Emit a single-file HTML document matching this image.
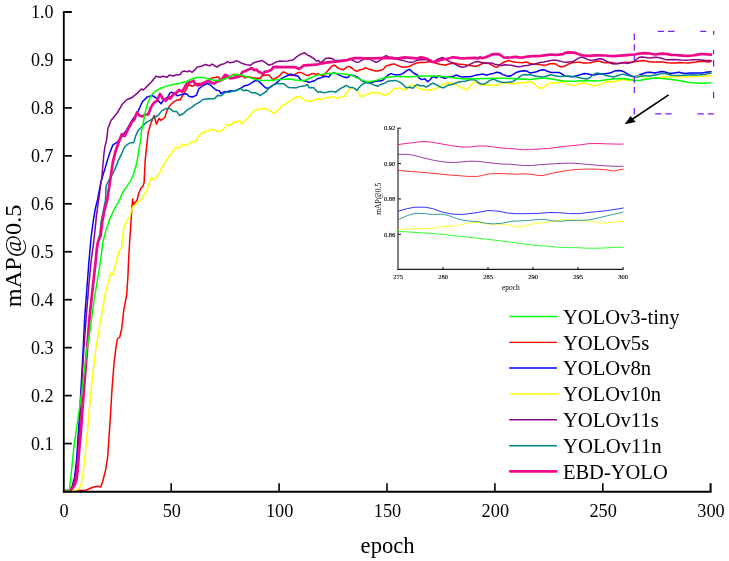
<!DOCTYPE html>
<html><head><meta charset="utf-8"><title>mAP@0.5 vs epoch</title>
<style>
html,body{margin:0;padding:0;background:#fff;}
body{width:729px;height:561px;overflow:hidden;font-family:"Liberation Serif",serif;}
svg text{font-family:"Liberation Serif",serif;}
</style></head><body>
<svg width="729" height="561" viewBox="0 0 729 561" style="display:block;will-change:transform">
<rect x="0" y="0" width="729" height="561" fill="#ffffff"/>
<polyline points="64.3,491 85.7,490.2 93.5,487 97.8,486.3 100.7,487 102.8,481.3 105.6,470 107.8,455.7 109.2,434.3 110.2,420 112,389 114,363.5 115.9,347.8 117.3,339 119.8,337 121.8,328.2 123.7,310.6 126.7,295 128,275.3 128.6,260 129.6,242.8 130.7,226.8 131.7,210.7 132.6,199 133.6,204.5 134.6,203 137.1,200 138.7,193.5 140.9,188.2 143,186 144.1,182.8 144.6,172.1 145.1,161.4 146.2,150.7 148.2,132.2 151.2,122.4 154.1,115.5 156.5,124.3 159,118.4 161,120.4 164.9,117.5 166.9,110.6 169.8,105.7 173.7,101.8 177.6,99.8 179.9,100 183.2,94.6 186.5,88.8 188.5,84.7 192.2,86.3 194.7,84.7 197.2,83.5 202.9,83.5 205.4,82.2 209.5,79.3 212.8,77.7 216.1,77.3 218.6,76.9 220.2,79.8 221.9,80.6 226,77 230,76.7 232.5,75 234.5,74.2 237.4,75.9 240.7,75.9 243.2,76.7 245.2,77.9 248.1,76.7 251.4,77.5 254.7,77.9 258,78.3 260.5,78.3 261.7,75.9 263.7,75.5 266.2,75 268.7,75 271.2,77.5 272.8,79.6 276.1,77.9 279.4,75.9 281.9,73 283.5,71.8 286.8,73.4 290,75.3 293.3,75.5 295.8,73.8 298.2,72.6 300.7,72.4 303.2,73.4 305.6,75 308.1,75.5 310.6,74.2 313,73.6 315.5,74.2 318.8,73.8 321.3,75.5 323.7,75.5 326.2,72.6 328.7,69.7 331.2,66.8 333.6,65.2 335.3,65.6 337.7,68 340.2,68.9 343.5,69.7 346,67.6 348.4,66.4 350,67 352.5,68.5 354.9,70.5 357,71.3 359.9,69.7 363.2,69.3 365.2,67.6 368.1,68.9 371.4,69.7 374.7,70.9 378,70.9 381.3,70.1 383.7,68.9 385.4,66.4 388.7,65.2 392,64.3 394.4,63.9 396.9,65.2 400.2,66.4 403.5,67.2 407.6,66.8 410,66.2 413.3,64.3 416.6,63.1 419.9,62.5 423.2,62.5 426.5,62.3 428.9,61.5 433,62.3 437.2,63.5 439.6,64.3 442.9,64.8 445.4,65.2 447.9,64.3 451.2,63.5 454.4,63.1 457.7,63.9 461,64.3 464.3,64.5 467.6,65.2 470,65.6 473.3,66 475.8,66.4 479.1,65.2 482.3,63.5 485.6,62.7 488.9,63.5 491.4,64.8 493.9,66.4 496.3,67.2 498.4,66.4 500.5,64.3 502.9,62.7 505.4,61.5 507.9,60.6 510.3,60.9 512.8,61.7 516.1,62.3 519.4,62.5 522.7,62.7 526,62 528.4,62.7 530,63.5 533.3,63.9 537.4,64.3 540.7,64.8 544,65.2 547.3,64.8 549.8,63.7 553,63.4 555.5,63.9 558,65.6 560.5,66.8 562.9,66.7 565.4,65.8 567.9,64.3 570.3,63.5 572.8,62.5 576.1,62.3 580.2,62.3 583.5,62.9 586.8,63.1 590,62.7 593.3,61.9 596.6,61.1 599.9,61.2 603.2,62.5 606.5,62.7 609.8,62.3 613,62.7 616.3,63.5 619.6,63.5 622.9,62.5 626.2,62.3 629.5,62.5 632.8,62 636.1,61.5 639.4,60.9 642.7,60.6 646,61.1 650,61.9 655,61.9 659.1,61.9 663.2,62.1 667.3,62.7 671.5,63.1 675.6,62.9 679.7,62.4 683.8,62.7 687.9,62.9 692,62.4 696.2,61.9 700.3,61.3 704.4,61.5 708.5,61.9 711,61.5" fill="none" stroke="#ff0000" stroke-width="1.5" stroke-linejoin="round" stroke-linecap="round" />
<polyline points="64.3,491 69,490.5 72,487 74.5,478 76.6,460 78.2,435 79.8,410 81.5,380 83.1,350 84.8,316 86.8,290 88.9,262 91.1,237.5 93.2,221.4 95.3,208.6 97.5,200 100.7,182.8 103.9,172.1 107.1,161.4 109.8,152.8 113,144.8 117.3,142.1 120.8,138 126,131 131,122 137.5,112.5 142.4,101.8 147.3,96.9 152.2,95.5 156,97.8 161,103.7 163.9,99.8 167.8,96.9 170,92.9 171.6,92.1 174.1,93.3 177.4,95.8 181.5,94.6 186.5,93.7 188.9,96.2 192.2,97 196.3,95.4 198.8,88.8 202.9,85.5 207,83.5 209.5,84.3 212.8,87.2 216.1,90 219.4,90.9 221,93.7 224.3,91.7 227.6,91.7 230,90.7 233.3,91.1 236.6,90.3 239.1,89 241.5,87.8 244.4,85.7 247.3,85.3 250.6,83.7 253,82 255.5,80.4 258,80.8 260.5,82.9 262.9,85.3 265.4,87.8 267.9,88.2 270.3,87.4 272.8,85.3 275.3,83.7 278.6,81.2 281,78.7 284.3,77.1 287.6,75.5 290,74.2 292.5,74.6 294.9,75.5 297.4,75.9 299.1,77.5 300.7,80 303.2,80.8 306.5,81.2 308.9,82.5 311.4,81.6 314.7,80.8 317.2,78.7 320.5,77.9 323.7,76.7 326.2,76.3 328.7,77.1 330.3,75 332.8,73 336.1,73.6 338.6,74.6 341,75.9 344.3,77.1 346.8,77.7 348.8,76.7 350,75 353.3,75.5 356.6,76.7 359.1,78.3 361.5,80.4 364.8,82 368.1,82.9 371.4,82.6 374.7,81.6 378,81 381.3,80.8 383.7,79.6 386.2,76.7 388.7,74.6 391.2,73.6 393.6,74.4 396.9,74.9 400.2,74.6 402.7,73.6 405.1,71.8 407.6,70.1 410,69.5 412.5,72.2 414.9,73.8 417.4,75 419.1,77.9 421.5,79.6 424.8,78.7 427.7,81.6 429.8,80 432.2,77.1 434.7,76.7 436.3,77.9 438.4,75.9 441.3,77.1 444.6,78.3 447,77.5 450.3,76.7 453.6,76.3 456.1,75 458.6,75.9 461.9,77.1 466,76.7 470,76.7 473.3,75.9 476.6,74.9 479.9,74.4 483.2,74.1 486.5,75.2 489.8,74.1 493,73.6 495.5,72.6 498,72.2 500.5,73.2 502.9,74.6 506.2,75.7 509.5,76.3 512,75.2 514.4,73.6 516.9,72.2 520.2,71.3 523.5,70.8 526.8,70.9 528.8,72.4 530,73 533.3,72.4 536.6,71.8 539.1,70.5 542.3,69.7 544.8,69.9 547.3,71.3 550.6,72.2 553.9,72.6 557.2,72.6 559.6,72.6 562.1,74.2 564.6,75.9 567.9,76.3 571.2,76.7 574.4,76.3 577.7,75.5 581,74.4 584.3,73.6 587.6,73.8 590,74.6 593.3,75 596.6,74.6 599.9,73.8 603.2,74.1 606.5,73.6 609.8,73 612.2,72.2 614.7,70.9 618,70.5 621.3,70.8 623.7,71.6 626.2,73.2 628.7,74.6 631.2,75.9 634.4,76.7 636.9,76.3 639.4,75 642.7,73.8 646,72.6 650,72.2 655,73 658.3,72.2 661.6,71.5 664.9,72 668.2,73 671.5,73.4 675.6,72.8 678.9,72.3 682.2,73 685.5,73.4 689.6,73.1 693.7,73 697.8,73.1 701.9,73 706,72.3 711,71.7" fill="none" stroke="#0000ff" stroke-width="1.5" stroke-linejoin="round" stroke-linecap="round" />
<polyline points="64.3,491.3 70,491 75.7,490.6 79.3,488.5 81.4,482.8 83.5,470 85.7,448.5 87.8,428.6 89.4,408.6 93.3,369.4 96.3,346 100.2,322.4 105.1,294.9 110.6,273.3 112.5,275.3 115.9,263.5 119.4,250.3 121.6,248.2 122.6,237.5 123.7,228.9 126.4,221.4 129.6,217.1 131.7,209.6 133.4,206.4 136.6,203.2 139.2,201.6 141,200 143.5,195.7 145.7,192.5 147.8,188.2 149.4,182.8 151.6,177.5 153.2,179.1 155.3,179.1 157.5,175.3 160,172.1 162,167.5 166.9,159.6 171.8,152.7 175.7,147.5 178.6,148.2 182.5,144.3 186.5,145.5 190.4,142.4 194.3,142 195,142 198.9,136.1 202.8,132.2 206.8,131.2 211.7,129.2 215.6,130.6 219.5,131.8 223.4,129.2 227.4,124.3 230.3,125.3 233.2,122.4 236.2,122 239.1,120.8 242.1,123.9 246,119.4 249.9,115.5 253.8,110.6 257.7,109.6 263.6,108.6 267.5,109.6 271.5,111.6 274.4,113.5 278.3,109.6 282.3,105.7 286.2,103.7 290.1,100.8 294,97.8 297.9,96.5 301.9,97.8 305.8,100.8 309.7,101.2 313.6,100.4 317.5,98.8 321.5,99.8 325,97.8 328.9,97.3 332.8,96.5 336.8,98.4 340.7,96.9 343.5,97 346.8,92.3 350,88 353,87.6 357,90.3 359.1,94 360.7,96.4 363.2,96 366.5,94.4 368.9,94 371.4,92.7 373.9,92.3 376.3,93.6 378.8,92.7 381.3,94 383.7,95.2 386.2,94.8 388.7,94 391.2,91.5 393.6,89 396.9,88.2 400.2,88.2 402.7,89.4 405.1,90.3 407.6,87.4 410,85.7 412.5,84.9 414.9,85.7 417.4,87.8 420.7,89 424,89.9 427.3,89.4 430.6,90.3 433.9,89.4 437.2,88.2 439.6,86.6 442.9,84.5 446.2,83.3 448.7,82.9 451.2,83.3 454.4,83.7 456.9,84.5 459.4,86.6 462.7,88.2 465.1,88.6 466.8,90.3 468.4,88.2 470,86.2 472.5,82.9 474.9,81.6 477.4,82.9 480.7,84.5 484,84.9 487.3,84.9 490.6,84.8 493.9,85.7 497.2,85.3 500.5,83.7 503.7,82.9 507,83.1 510.3,83.7 513.6,83.7 516.9,82.9 520.2,82.5 523.5,82.9 526.8,82 530,81.9 533.3,82.9 535.8,85.3 538.2,87.4 540.3,88.6 543.2,87.4 546.5,85.3 549.8,83.3 552.2,82.6 555.5,83.3 558.8,82.5 562.1,82 564.6,82.6 567.9,83.7 570.3,84.9 573.6,85.6 576.1,84.9 578.6,83.7 581.9,83.1 585.1,83.3 587.6,84.1 590,84.5 592.5,85.6 595.8,85.7 599.1,84.9 602.3,83.3 605.6,82 608.9,81.2 612.2,81.6 614.7,82 617.2,80.8 620.5,80 622.9,79.2 625.4,80 627.9,80.4 631,80.2 634,78.5 636.1,76.7 638.6,75.9 641,75.9 643.5,77.1 646,78.3 647.6,78.5 650,78.2 655,77.9 663.2,77.1 667.3,76.7 671.5,76.7 679.7,76.7 683.8,76.9 687.9,76.7 692,76.4 696.2,76.4 700.3,76.3 704.4,76.1 708.5,75.9 711,75.6" fill="none" stroke="#ffff00" stroke-width="1.5" stroke-linejoin="round" stroke-linecap="round" />
<polyline points="64.3,491 69,490.6 72.5,487 75,478 77.2,462 79,436 80.5,410 82,380 83.8,350 86,320 88.7,286.8 91.2,260 93.2,246 94.8,232.1 96.4,216.1 98,204.3 98.7,200 100.2,188.2 101.8,177.5 102.8,166.8 103.9,153.9 105,146.4 106.6,140 108,128.2 111,120.4 116.9,113.5 122.7,103.7 126.7,99.8 131.6,97.8 136.5,93.9 141.4,89 143.3,90 147.3,86.1 151.2,82.2 156,76.3 160,77.3 162.9,76.3 166.9,77.3 169.8,74.9 170,75.2 173.3,76 176.6,74.8 179.9,74.8 182.3,71.5 184.8,71.1 187.3,71.9 188.9,70.7 192.2,72.3 194.7,69.9 197.2,67 201.3,66.2 205.4,64.5 209.5,65.8 212,64.1 216.9,67 221,64.5 224.3,63.7 227.6,61.6 230,62.7 233.3,62.3 236.2,60.6 239.1,61.9 242.3,63.5 246.5,64.8 250.6,65.2 253.9,62.7 258,61.5 262.1,60.6 265.4,62.7 268.7,65.2 272,64.3 275.3,62.3 279.4,61.1 283.5,61.2 287.6,60.9 290,60.6 293.3,59.8 296.6,56.9 300.7,54.1 304.8,52.8 307.3,54.9 310.6,56.5 313.9,58.6 316.3,61.1 318.4,60.6 320.5,62.3 322.9,61.1 325.4,58.6 328.7,57.9 332,58.4 334.4,60.2 336.9,60.6 340,60.4 344,60.8 348,59.6 350,59.4 353.3,60.6 356.6,62.3 359.1,61.9 362.3,59.8 366.5,58.6 371.4,59.8 373.9,61.5 376.3,62.3 378.8,61.1 381.3,59.4 383.7,56.9 386.2,55.7 388.7,56.9 392,57.3 396.1,59 399.4,59.8 403.5,60.6 407.6,61.9 410,62.3 413.3,61.9 416.6,60.6 419.9,59.8 423.2,59.4 427,59.8 431,61.5 434,61.9 437.2,59.4 440.5,58.2 442.9,57.6 445.4,59 448.7,61.1 452,62.7 455.3,64.3 458.6,66 461.9,67.2 465.1,66.8 467.6,65.6 470,64.3 472.5,63.1 474.9,61.9 477.4,61.5 480.7,62.3 484,62.7 486.5,63.5 489.8,63.1 492.2,63.1 494.7,64.3 498,64.8 501.3,65.6 504.6,64.8 507.9,65 511.2,65.3 514.4,66 517.7,66.8 521,66.4 524.3,65.8 527.6,65.6 530,64.8 533.3,64.3 536.6,63.5 539.9,62.5 544,61.9 548.1,61.1 552.2,60.2 556.3,60.2 559.6,60.9 562.9,61.9 566.2,62.3 569.5,61.9 572.8,61.5 575.3,60.2 577.7,58.6 580.2,57.3 582.7,57.3 585.1,58.2 587.6,59.4 590,60.2 593.3,60.1 596.6,59.4 599.9,58.7 602.3,59 604.8,60.2 608.1,62.3 611.4,63.5 614.7,63.9 618,63.5 621.3,63.1 624.6,62.7 627.9,63.4 631.2,62.5 634.4,61.1 636.9,59 639.4,57.3 641.9,56.9 644.3,57.3 647.6,57.8 650,57.9 655,57.3 658.3,57.5 661.6,58.2 664.9,59.4 669,59.8 673.1,59.4 677.2,59.7 681.3,60 685.5,60.2 689.6,60.1 693.7,59.8 697.8,59.7 701.9,60 706,60.5 711,60.6" fill="none" stroke="#86088a" stroke-width="1.5" stroke-linejoin="round" stroke-linecap="round" />
<polyline points="64.3,491 70,490.6 72.5,488.2 74.6,485 76.4,480 77.5,472 78.2,462.8 79.3,448.5 80.7,434.3 82.5,408.6 85.5,369.4 87.8,340 89.3,320 92.5,290 95.8,260 96.9,248.2 98,241.8 99.8,234.3 101.2,221.4 103.4,210.7 105.5,200 106.1,186 109,180 113,173.2 114.6,170 116.8,164.6 118.9,159.3 122.1,152.8 124.3,147.5 127.5,144.3 130.7,142.7 133.4,142.7 134.4,140.5 135.5,136.1 138.4,130.2 142.4,126.3 146.3,122.4 150.2,120.4 154.1,117.5 158,115.5 162,110.6 165.9,108.6 169.8,108.6 173.7,111.6 176.7,111.6 179.6,115.5 183.5,113.5 187.5,109.6 191.4,107.6 195,104.7 198.9,102.7 202.9,99.5 206.5,99 209.5,98.7 214.4,98.7 217.7,95.4 221,95.8 225.1,92.5 230,92.3 232.5,90.7 235.8,90.7 239.1,89.4 241.1,88.6 243.2,90.7 246.5,89.9 248.9,91.1 251.4,92.7 254.7,92.7 258,94 260,95.6 262.9,93.6 266.2,91.5 268.3,89 270.3,86.6 272.8,85.3 276.1,83.7 279.4,83.7 283.5,83.7 286,85.7 288.4,87.4 290,87.6 293.3,87.8 296.6,87.8 299.1,86.6 302.3,86.2 305.2,85.7 307.3,84.5 309.3,87.8 311.4,87.4 313.9,87.8 315.5,89.9 318,92.3 320,91.5 322.1,92.3 324.6,92.7 327,92.3 329.5,91.5 332.8,91.5 335.3,92.3 337.7,90.7 340.2,88.6 343.5,87 346.4,85.3 348.4,86.6 350,87.6 352.5,87.4 354.9,88.6 357,90.3 359.1,87.4 361.5,84.9 364.8,82.9 368.1,82.3 371.4,83.7 374.7,85.3 378,86.2 380.5,84.5 382.9,83.7 385.4,82.9 387.9,81.2 391.2,80.8 395.3,80.4 398.6,81.6 401,82.9 403.5,84.9 406,87.8 408.4,87.4 410,87.2 412.9,88.2 414.9,86.2 417.4,84.5 419.9,85.7 423.2,85.7 426.5,87 428.9,85.7 431.4,83.7 433.9,83.3 436.3,84.9 438.8,86.2 441.3,87.4 443.7,87.8 446.2,86.2 448.7,84.9 452,84.5 455.3,83.3 458.6,82 461.9,81.6 465.1,81.2 467.6,80.4 470,79.8 473.3,79.6 475.8,80.4 478.2,82.5 480.7,83.7 484,84.1 486.5,82.9 489.8,80.4 492.2,79.6 494.7,79.6 497.2,80.8 500.5,82 503.7,82.5 507,82.3 510.3,82 512.8,81.6 515.3,80 517.7,78.3 520.2,76.3 522.7,74.9 525.1,74.4 527.6,75 530,74.6 533.3,75.5 536.6,76.3 539.9,76.7 543.2,77.1 546.5,76.3 548.9,75.2 551.4,74.6 553.9,75.5 557.2,76.3 560.5,76.5 563.7,76.3 567,75.9 570.3,76.3 573.6,76.7 576.9,77.1 580.2,77.9 583.5,78.5 586.8,79 588.8,78.3 590,77.5 591.6,75.9 594.1,74.1 597.4,73 599.9,73.4 603.2,74.6 606.5,75.5 609.8,76.3 613,77.1 616.3,76.3 619.6,75 622.9,74.1 626.2,75 629.5,75.9 632.8,76.5 635.3,77.1 638.6,76.7 641.9,75.9 645.1,75.5 647.6,75.9 650,76 655,75 658.3,74.5 661.6,73.4 664.9,73.4 668.2,74.2 671.5,75.3 675.6,75.6 679.7,75.6 683.8,75.3 687.9,75 692,74.8 696.2,75 700.3,74.8 704.4,74.5 707.7,73.8 711,73" fill="none" stroke="#038686" stroke-width="1.5" stroke-linejoin="round" stroke-linecap="round" />
<polyline points="64.3,491 70,490.6 72.5,488.2 74.6,485 76.4,480 77.5,472 78.2,462.8 79.3,448.5 80.7,434.3 82.5,408.6 85.5,369.4 87.8,340 89.3,320 92.5,290 95.8,260 96.9,248.2 98,241.8 100.7,235.3 102.3,221.4 104.4,210.7 107.2,200 109.8,182.8 111.4,172.1 113,161.4 115.7,150.7 118.4,143.2 119.6,140 121.8,134.1 124.7,136.1 127.6,130.2 131.6,122.4 134.5,119.4 136.9,112.5 139.4,115.5 142.4,116.5 145.3,114.5 148.2,114.5 151.2,106.7 154.1,102.7 157.1,100.8 160,93.9 162.9,98.8 165.9,100.8 168.8,96.9 170,98.7 173.3,94.6 176.6,92.5 179.1,90 182.3,91.7 184.8,87.2 186.5,83.9 188.9,82.6 191.4,81.8 193.5,80.6 195.5,84.3 198,85.5 201.3,84.3 203.7,83 206.2,81.8 208.7,81 211.2,82.6 214.4,83.5 216.9,81.4 220.2,80.6 222.7,78.1 225.1,74.8 227.6,76 230,78.3 233.3,77.9 236.6,77.1 239.9,76.3 242.3,72.2 246.5,70.5 249.8,68.9 251.8,68 253.9,70.1 256.3,69.7 258.8,71.8 261.3,73 262.9,74.2 264.6,71.8 267.9,71.3 271.2,70.1 273.2,67.2 276.1,66.8 279.4,67.2 283.5,67.2 287.6,67.2 290,67.2 294.1,67.2 296.6,67.6 298.6,68.9 300.7,68 303.2,65.6 308.1,65.2 313,64.8 318,64.3 322.9,63.1 327.9,62.3 332.8,61.9 337.7,61.5 342.7,60.6 347.6,60.1 350,59 354.9,58.2 359.9,58.2 364.8,58.4 369.8,58.4 374.7,58.4 379.6,58.2 384.6,57.9 389.5,58.2 394.4,58.4 399.4,58.2 404.3,57.3 410,57.8 414.1,58.2 417.4,58.6 420.7,57.3 424,57.8 427.3,59 429.8,60.2 432.2,61.9 434.7,61.9 437.2,61.1 439.6,60.2 442.9,59.4 446.2,59 449.5,58.2 452.8,57.3 456.1,57.6 459.4,58.2 463.5,58.4 467.6,58.2 470,58.2 474.1,57.9 478.2,58.4 479.9,57.3 482.3,58.2 485.6,57.3 488.9,56 492.2,54.3 495.5,54.1 498.8,54.1 501.3,55.7 503.7,57.3 507,57.6 511.2,57.3 515.3,56.8 519.4,57.3 522.7,57.6 526,56.8 530,56.3 534.1,56 538.2,56.1 542.3,55.7 546.5,55.1 550.6,54.5 554.7,54.9 558.8,54.6 562.9,54.1 565.4,52.8 568.7,52.4 572.8,52.7 576.1,53.2 579.4,54.5 582.7,55.3 586.8,55.7 590,55.8 594.9,55.3 599.9,55.3 604.8,55.5 609.8,56 614.7,56.1 619.6,55.7 624.6,55.3 629.5,54.9 634.4,54.5 639.4,53.6 644.3,53.2 650,53.5 655,54.5 659.1,53.9 663.2,53.6 667.3,54.2 671.5,54.9 675.6,55 679.7,55.3 683.8,55.7 687.9,55.9 692,55.5 696.2,54.9 700.3,54.2 704.4,54.1 708.5,54.5 711,54.7" fill="none" stroke="#f0088a" stroke-width="2.7" stroke-linejoin="round" stroke-linecap="round" />
<polyline points="64,491.3 68.8,491 69.6,489 74.3,443.5 77.8,420 82,390 86.8,350 89,338 94.3,299 99.2,269 100.6,260 102.8,242.8 106,230 109.3,220.3 113.5,210.7 117.8,203.2 119.4,200 122.1,193.5 126.4,187.1 130.7,180.7 133.9,173.2 136,165.7 137.6,158.2 138.7,150.7 139.8,144.3 140.9,140 141.2,132.8 143.4,122.1 145.5,111.4 147.4,104 148.9,100.5 151.5,95 155.4,91 160.6,88.3 167.1,85.9 170,85.1 178.2,83.5 186.5,81.4 193,78.5 198,77.4 202.9,77.4 207,78.5 211.2,79.8 216.1,80.6 221,80.2 226,78.5 230,76.7 233.3,75 237.4,74.4 241.5,75 246.5,76.7 251.4,78.3 257.2,79.8 262.9,80.4 268.7,80.4 274.4,80.1 279.4,79.6 284.3,79.2 290,79 294.9,80 299.9,80.6 304.8,80.4 308.9,78.7 313,76.7 318,75 322.9,74.2 327.9,73.6 332.8,73.2 337.7,73.6 342.7,73.8 347.6,74.4 350,75 354.1,76.3 358.2,78.3 362.3,80.4 366.5,81.6 370.6,81.6 374.7,80.8 378.8,79.6 382.9,78.3 387,77.3 391.2,76.7 396.1,76.5 401,76.5 406,76.7 410,77.1 414.9,76.5 419.9,76.3 424.8,76 429.8,76 434.7,76 439.6,76.3 444.6,76.7 449.5,77.3 454.4,77.9 459.4,78.5 464.3,79 470,79.1 478.2,78.7 486.5,78.5 494.7,78.2 502.9,78.2 511.2,78.5 519.4,79 530,79.6 534.9,79 539.9,78.3 544.8,78.2 549.8,78.7 554.7,79.6 559.6,80.4 564.6,81 569.5,81.2 574.4,81.2 579.4,81 584.3,80.8 590,80.8 594.9,81 599.9,80.8 604.8,80.1 609.8,79.3 614.7,78.7 619.6,78.5 624.6,78.7 629.5,79.6 634.4,80.4 639.4,80.4 644.3,79.6 650,78.5 655,77.9 659.1,78.3 663.2,78.6 667.3,78.9 671.5,79.4 675.6,80 679.7,80.8 683.8,81.6 687.9,82.2 692,82.7 696.2,83 700.3,83.3 704.4,83.3 708.5,83 711,82.7" fill="none" stroke="#00ff00" stroke-width="1.5" stroke-linejoin="round" stroke-linecap="round" />
<path d="M634.3,33.4 V40.2 M634.3,44.3 V50.7 M634.3,55.1 V61.1 M634.3,76.4 V82.9 M634.3,87.1 V93.0 M634.3,108.0 V114.4 M657.7,31.3 H663.9 M668.0,31.3 H674.6 M700.2,31.3 H706.2 M713.6,31.1 V34.8 M713.6,50.0 V54.1 M713.6,60.0 V66.4 M713.6,91.9 V98.3 M655.2,113.9 H661.4 M665.3,113.9 H671.7 M697.3,113.9 H703.8 M707.7,113.9 H713.9" stroke="#7d1aff" stroke-width="1.25" fill="none"/>
<g stroke="#000" stroke-width="1.85" fill="none" stroke-linecap="butt">
<path d="M63.8,11.2 V492.625"/>
<path d="M62.875,491.7 H711.5"/>
<path d="M63.8,443.55 h8.0" stroke-width="1.7"/>
<path d="M63.8,395.60 h8.0" stroke-width="1.7"/>
<path d="M63.8,347.65 h8.0" stroke-width="1.7"/>
<path d="M63.8,299.70 h8.0" stroke-width="1.7"/>
<path d="M63.8,251.75 h8.0" stroke-width="1.7"/>
<path d="M63.8,203.80 h8.0" stroke-width="1.7"/>
<path d="M63.8,155.85 h8.0" stroke-width="1.7"/>
<path d="M63.8,107.90 h8.0" stroke-width="1.7"/>
<path d="M63.8,59.95 h8.0" stroke-width="1.7"/>
<path d="M63.8,12.00 h8.0" stroke-width="2.0"/>
<path d="M171.20,491.7 V483.2" stroke-width="1.6"/>
<path d="M279.10,491.7 V483.2" stroke-width="1.6"/>
<path d="M387.00,491.7 V483.2" stroke-width="1.6"/>
<path d="M494.90,491.7 V483.2" stroke-width="1.6"/>
<path d="M602.80,491.7 V483.2" stroke-width="1.6"/>
<path d="M710.60,491.7 V483.2" stroke-width="2.0"/>
</g>
<g font-family="'Liberation Serif', serif" font-size="18" fill="#000">
<text x="53.6" y="449.50" text-anchor="end">0.1</text>
<text x="53.6" y="401.55" text-anchor="end">0.2</text>
<text x="53.6" y="353.60" text-anchor="end">0.3</text>
<text x="53.6" y="305.65" text-anchor="end">0.4</text>
<text x="53.6" y="257.70" text-anchor="end">0.5</text>
<text x="53.6" y="209.75" text-anchor="end">0.6</text>
<text x="53.6" y="161.80" text-anchor="end">0.7</text>
<text x="53.6" y="113.85" text-anchor="end">0.8</text>
<text x="53.6" y="65.90" text-anchor="end">0.9</text>
<text x="53.6" y="17.95" text-anchor="end">1.0</text>
<text x="64.00" y="516.6" text-anchor="middle" font-size="18.3">0</text>
<text x="171.83" y="516.6" text-anchor="middle" font-size="18.3">50</text>
<text x="279.66" y="516.6" text-anchor="middle" font-size="18.3">100</text>
<text x="387.49" y="516.6" text-anchor="middle" font-size="18.3">150</text>
<text x="495.32" y="516.6" text-anchor="middle" font-size="18.3">200</text>
<text x="603.15" y="516.6" text-anchor="middle" font-size="18.3">250</text>
<text x="710.98" y="516.6" text-anchor="middle" font-size="18.3">300</text>
</g>
<text x="387.6" y="552.6" text-anchor="middle" font-family="'Liberation Serif', serif" font-size="22.6" fill="#000">epoch</text>
<text transform="translate(21,255.9) rotate(-90)" text-anchor="middle" font-family="'Liberation Serif', serif" font-size="22.3" fill="#000" textLength="102.5" lengthAdjust="spacingAndGlyphs">mAP@0.5</text>
<path d="M509.2,316.55 H557.0" stroke="#00ff00" stroke-width="1.4" fill="none"/>
<text x="562.9" y="323.80" font-family="'Liberation Serif', serif" font-size="20.5" fill="#000" textLength="116.6" lengthAdjust="spacingAndGlyphs">YOLOv3-tiny</text>
<path d="M509.2,342.35 H557.0" stroke="#ff0000" stroke-width="1.4" fill="none"/>
<text x="562.9" y="349.60" font-family="'Liberation Serif', serif" font-size="20.5" fill="#000" textLength="86.4" lengthAdjust="spacingAndGlyphs">YOLOv5s</text>
<path d="M509.2,367.95 H557.0" stroke="#0000ff" stroke-width="1.4" fill="none"/>
<text x="562.9" y="375.40" font-family="'Liberation Serif', serif" font-size="20.5" fill="#000" textLength="88.3" lengthAdjust="spacingAndGlyphs">YOLOv8n</text>
<path d="M509.2,394.00 H557.0" stroke="#ffff00" stroke-width="1.4" fill="none"/>
<text x="562.9" y="401.20" font-family="'Liberation Serif', serif" font-size="20.5" fill="#000" textLength="98.2" lengthAdjust="spacingAndGlyphs">YOLOv10n</text>
<path d="M509.2,419.75 H557.0" stroke="#86088a" stroke-width="1.4" fill="none"/>
<text x="562.9" y="427.00" font-family="'Liberation Serif', serif" font-size="20.5" fill="#000" textLength="96.0" lengthAdjust="spacingAndGlyphs">YOLOv11s</text>
<path d="M509.2,445.75 H557.0" stroke="#038686" stroke-width="1.4" fill="none"/>
<text x="562.9" y="452.80" font-family="'Liberation Serif', serif" font-size="20.5" fill="#000" textLength="98.7" lengthAdjust="spacingAndGlyphs">YOLOv11n</text>
<path d="M510.3,471.30 H556.3" stroke="#f0088a" stroke-width="2.7" stroke-linecap="round" fill="none"/>
<text x="562.9" y="478.60" font-family="'Liberation Serif', serif" font-size="20.5" fill="#000" textLength="104.8" lengthAdjust="spacingAndGlyphs">EBD-YOLO</text>
<path d="M668.7,94.9 L629.6,121.0" stroke="#000" stroke-width="1.6" fill="none"/>
<path d="M624.7,124.2 L630.6,116.0 L635.6,122.0 Z" fill="#000"/>
<g stroke="#222" stroke-width="1.1" fill="none">
<path d="M398.0,127.69999999999999 V270.0" stroke="#4a4a4a" stroke-width="1.4"/>
<path d="M397.3,269.4 H623.5" stroke="#1a1a1a" stroke-width="1.4"/>
<path d="M398.0,128.20 h3.0"/>
<path d="M398.0,163.57 h3.0"/>
<path d="M398.0,198.94 h3.0"/>
<path d="M398.0,234.31 h3.0"/>
<path d="M443.00,269.4 v-2.4"/>
<path d="M488.00,269.4 v-2.4"/>
<path d="M533.00,269.4 v-2.4"/>
<path d="M578.00,269.4 v-2.4"/>
<path d="M623.00,269.4 v-2.4"/>
</g>
<g font-family="'Liberation Serif', serif" font-size="6.5" fill="#000" stroke="#000" stroke-width="0.12">
<text x="395.3" y="130.40" text-anchor="end">0.92</text>
<text x="395.3" y="165.77" text-anchor="end">0.90</text>
<text x="395.3" y="201.14" text-anchor="end">0.88</text>
<text x="395.3" y="236.51" text-anchor="end">0.86</text>
<text x="398.00" y="278.8" text-anchor="middle">275</text>
<text x="443.00" y="278.8" text-anchor="middle">280</text>
<text x="488.00" y="278.8" text-anchor="middle">285</text>
<text x="533.00" y="278.8" text-anchor="middle">290</text>
<text x="578.00" y="278.8" text-anchor="middle">295</text>
<text x="623.00" y="278.8" text-anchor="middle">300</text>
</g>
<text x="510.8" y="290.3" text-anchor="middle" font-family="'Liberation Serif', serif" font-size="7.4" fill="#000">epoch</text>
<text transform="translate(381.2,198.8) rotate(-90)" text-anchor="middle" font-family="'Liberation Serif', serif" font-size="7.6" fill="#000">mAP@0.5</text>
<polyline points="398.2,231.4 409.2,232 421,232.8 432.7,233.5 444.5,234.5 456.3,235.9 468,237.1 479.8,238.4 491.6,239.8 501.4,241 509.8,242 519.6,243.3 529.4,244.7 539.2,245.7 549,246.3 558.8,247.3 568.6,247.6 578.4,247.8 588.2,248.2 598,248.2 607.8,247.8 615.7,247.3 623.1,247.3" fill="none" stroke="#00ff00" stroke-width="0.8" stroke-linejoin="round" stroke-linecap="round" />
<polyline points="398.4,170.5 409.2,171.3 419,172.1 428.8,172.9 438.6,173.9 448.4,174.9 458.2,175.6 468,176.4 477.8,176.4 482.7,175.3 487.6,174.1 495.5,173.5 503.3,173.7 507.8,173.9 515.7,174.3 523.5,173.7 531.4,174.3 539.2,175.6 543.1,175.5 551,173.5 558.8,171.9 568.6,170.4 578.4,169.4 588.2,169 598,169.2 605.9,169.8 613.7,171.1 617.6,170.2 623.1,169.2" fill="none" stroke="#ff0000" stroke-width="0.8" stroke-linejoin="round" stroke-linecap="round" />
<polyline points="398.4,211.1 407.3,208.6 415.1,207.2 424.9,207.2 432.7,208.6 442.5,212.1 452.4,214.1 462.2,214.5 470,213.5 477.8,212.5 487.6,210.5 495.5,210.9 503.3,212.1 507.8,213.1 515.7,213.7 523.5,213.7 531.4,213.5 539.2,213.3 549,212.5 558.8,212.7 568.6,213.5 578.4,213.7 588.2,212.5 598,211.5 607.8,210.5 617.6,209 623.1,208" fill="none" stroke="#0000ff" stroke-width="0.8" stroke-linejoin="round" stroke-linecap="round" />
<polyline points="398.2,229.6 409.2,229 421,228.8 432.7,228.2 442.5,226.3 454.3,226.3 462.2,224.3 470,222.7 477.8,222.4 487.6,224.1 497.5,224.1 505.3,224.3 507.8,224.7 515.7,227.1 523.5,226.3 531.4,224.1 539.2,223.1 549,221.8 556.9,220.8 564.7,219.2 572.5,219.8 580.4,220.8 588.2,221.2 596.1,222.2 602,223.3 607.8,222.7 615.7,221.8 623.1,221.2" fill="none" stroke="#ffff00" stroke-width="0.8" stroke-linejoin="round" stroke-linecap="round" />
<polyline points="398.4,154.3 407.3,154.3 415.1,155.6 424.9,158.2 434.7,160.5 444.5,162.1 454.3,162.5 464.1,161.7 472,161.1 479.8,161.5 487.6,162.5 495.5,163.5 503.3,164.1 507.8,164.1 515.7,164.7 523.5,165.5 531.4,165.6 539.2,164.7 549,164.1 558.8,163.5 568.6,163.1 578.4,163.5 588.2,164.5 598,165.3 607.8,166 617.6,166.4 623.1,166.2" fill="none" stroke="#86088a" stroke-width="0.8" stroke-linejoin="round" stroke-linecap="round" />
<polyline points="398.4,219.6 407.3,215.6 415.1,213.3 424.9,213.7 432.7,214.5 442.5,214.1 448.4,215.5 456.3,218.4 464.1,220.4 472,221.3 477.8,221.5 485.7,223.3 493.5,223.9 501.4,223.3 505.9,222.5 511.8,221.3 519.6,220.9 529.4,220.4 539.2,219.4 545.1,219.6 552.9,220.9 560.8,221.3 568.6,220.4 578.4,220.4 588.2,220 598,218 607.8,215.6 617.6,213.5 623.1,212.1" fill="none" stroke="#038686" stroke-width="0.8" stroke-linejoin="round" stroke-linecap="round" />
<polyline points="398.4,144.5 409.2,143.1 419,141.9 424.9,141.5 432.7,142.3 442.5,144.1 452.4,145.8 462.2,147 470,147 477.8,146 485.7,146 493.5,147 501.4,148 507.8,148.4 515.7,149 523.5,149.8 531.4,149.4 539.2,149 549,148.4 558.8,147 568.6,146 578.4,145.1 588.2,143.7 598,143.5 607.8,143.9 617.6,144.1 623.1,144.1" fill="none" stroke="#f0088a" stroke-width="0.9" stroke-linejoin="round" stroke-linecap="round" />
</svg>
</body></html>
